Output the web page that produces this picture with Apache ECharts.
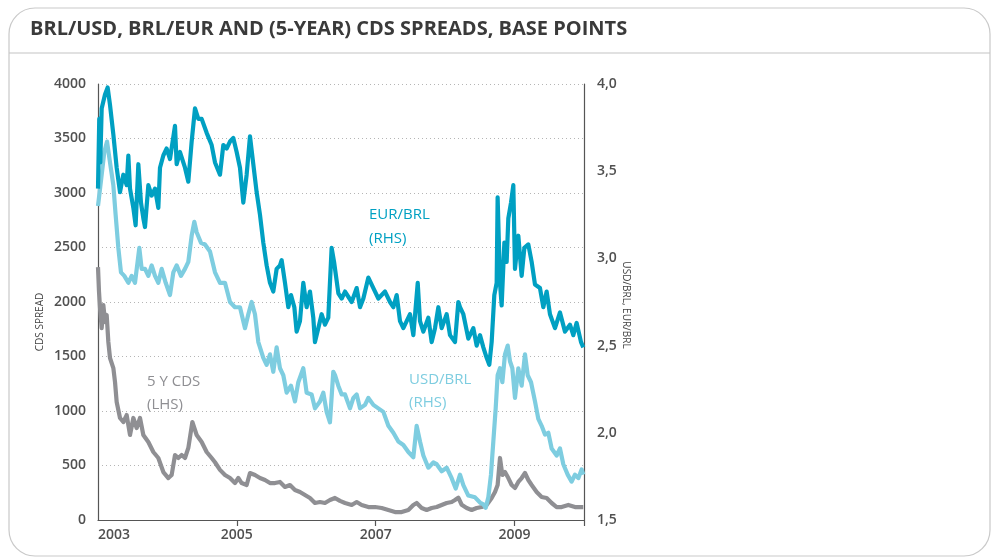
<!DOCTYPE html>
<html>
<head>
<meta charset="utf-8">
<script src="https://cdn.jsdelivr.net/npm/echarts@6/dist/echarts.min.js"></script>
<style>
html,body{margin:0;padding:0;background:#fff;}
#c{width:992px;height:558px;}
</style>
</head>
<body>
<div id="c"></div>
<script>
// [decimal year, EUR/BRL]
const eurBrl = [
[2003.000,3.40],[2003.018,3.80],[2003.033,3.55],[2003.053,3.86],[2003.101,3.94],[2003.139,3.98],[2003.173,3.88],
[2003.221,3.71],[2003.269,3.52],[2003.317,3.38],[2003.365,3.48],[2003.413,3.42],[2003.437,3.59],[2003.461,3.40],
[2003.509,3.29],[2003.542,3.19],[2003.581,3.54],[2003.619,3.32],[2003.653,3.23],[2003.677,3.18],[2003.725,3.42],
[2003.773,3.36],[2003.821,3.40],[2003.869,3.29],[2003.893,3.52],[2003.941,3.59],[2003.989,3.63],[2004.037,3.57],
[2004.109,3.76],[2004.133,3.54],[2004.181,3.61],[2004.253,3.52],[2004.301,3.44],[2004.349,3.67],[2004.397,3.86],
[2004.445,3.80],[2004.493,3.80],[2004.565,3.72],[2004.637,3.65],[2004.685,3.55],[2004.757,3.48],[2004.805,3.65],
[2004.853,3.63],[2004.901,3.67],[2004.949,3.69],[2004.997,3.61],[2005.045,3.52],[2005.093,3.32],[2005.141,3.48],
[2005.189,3.70],[2005.237,3.54],[2005.285,3.38],[2005.333,3.25],[2005.381,3.09],[2005.429,2.96],[2005.477,2.86],
[2005.525,2.81],[2005.573,2.94],[2005.621,2.96],[2005.645,2.99],[2005.693,2.86],[2005.741,2.72],[2005.780,2.79],
[2005.828,2.72],[2005.861,2.58],[2005.909,2.64],[2005.957,2.86],[2006.005,2.72],[2006.053,2.81],[2006.101,2.66],
[2006.125,2.52],[2006.173,2.60],[2006.221,2.68],[2006.269,2.62],[2006.317,2.66],[2006.365,3.06],[2006.400,2.98],
[2006.462,2.80],[2006.510,2.77],[2006.558,2.81],[2006.654,2.75],[2006.726,2.83],[2006.774,2.72],[2006.822,2.77],
[2006.894,2.89],[2006.966,2.83],[2007.038,2.77],[2007.134,2.81],[2007.206,2.75],[2007.254,2.72],[2007.302,2.79],
[2007.350,2.64],[2007.398,2.60],[2007.446,2.64],[2007.494,2.68],[2007.542,2.56],[2007.605,2.86],[2007.638,2.64],
[2007.686,2.58],[2007.758,2.66],[2007.806,2.52],[2007.854,2.60],[2007.902,2.72],[2007.950,2.60],[2008.022,2.68],
[2008.070,2.56],[2008.142,2.52],[2008.190,2.75],[2008.214,2.72],[2008.262,2.68],[2008.334,2.54],[2008.406,2.60],
[2008.454,2.50],[2008.502,2.56],[2008.550,2.49],[2008.598,2.43],[2008.636,2.39],[2008.670,2.52],[2008.708,2.79],
[2008.742,2.86],[2008.756,3.35],[2008.790,2.86],[2008.814,2.73],[2008.853,3.09],[2008.886,2.98],[2008.910,3.23],
[2008.949,3.32],[2008.982,3.42],[2009.006,2.94],[2009.054,3.13],[2009.102,2.90],[2009.141,3.06],[2009.198,3.08],
[2009.246,2.98],[2009.294,2.85],[2009.366,2.83],[2009.414,2.72],[2009.462,2.81],[2009.510,2.68],[2009.582,2.60],
[2009.654,2.69],[2009.726,2.58],[2009.798,2.62],[2009.846,2.56],[2009.894,2.63],[2009.957,2.52],[2009.990,2.49]
];
// [decimal year, USD/BRL]
const usdBrl = [
[2003.000,3.30],[2003.014,3.29],[2003.053,3.48],[2003.091,3.61],[2003.130,3.67],[2003.173,3.55],[2003.221,3.42],
[2003.254,3.25],[2003.293,3.06],[2003.331,2.92],[2003.379,2.90],[2003.437,2.86],[2003.485,2.90],[2003.533,2.86],
[2003.595,3.06],[2003.629,2.94],[2003.677,2.94],[2003.725,2.90],[2003.773,2.96],[2003.821,2.90],[2003.869,2.86],
[2003.917,2.94],[2003.975,2.86],[2004.037,2.79],[2004.085,2.92],[2004.133,2.96],[2004.195,2.90],[2004.253,2.94],
[2004.301,2.98],[2004.349,3.13],[2004.387,3.21],[2004.421,3.15],[2004.483,3.09],[2004.541,3.08],[2004.613,3.04],
[2004.685,2.92],[2004.757,2.86],[2004.829,2.86],[2004.901,2.75],[2004.973,2.72],[2005.045,2.72],[2005.117,2.60],
[2005.165,2.68],[2005.213,2.75],[2005.261,2.68],[2005.309,2.52],[2005.381,2.43],[2005.429,2.39],[2005.477,2.45],
[2005.525,2.35],[2005.573,2.49],[2005.621,2.37],[2005.669,2.33],[2005.717,2.23],[2005.780,2.27],[2005.837,2.18],
[2005.885,2.29],[2005.957,2.37],[2006.005,2.23],[2006.077,2.22],[2006.125,2.14],[2006.197,2.18],[2006.245,2.23],
[2006.293,2.12],[2006.341,2.06],[2006.389,2.35],[2006.414,2.33],[2006.461,2.27],[2006.510,2.22],[2006.558,2.22],
[2006.630,2.14],[2006.678,2.20],[2006.726,2.22],[2006.774,2.14],[2006.846,2.16],[2006.894,2.20],[2006.966,2.16],
[2007.038,2.14],[2007.110,2.12],[2007.182,2.04],[2007.254,2.00],[2007.326,1.95],[2007.398,1.93],[2007.470,1.89],
[2007.542,1.86],[2007.590,2.04],[2007.638,1.95],[2007.686,1.87],[2007.758,1.80],[2007.830,1.83],[2007.878,1.82],
[2007.950,1.78],[2008.022,1.80],[2008.094,1.74],[2008.152,1.68],[2008.214,1.76],[2008.262,1.70],[2008.334,1.64],
[2008.430,1.63],[2008.502,1.60],[2008.550,1.59],[2008.584,1.57],[2008.622,1.63],[2008.660,1.76],[2008.694,1.95],
[2008.728,2.14],[2008.756,2.33],[2008.790,2.37],[2008.824,2.29],[2008.862,2.45],[2008.901,2.50],[2008.934,2.41],
[2008.968,2.37],[2009.006,2.20],[2009.054,2.37],[2009.102,2.27],[2009.150,2.45],[2009.189,2.33],[2009.237,2.29],
[2009.294,2.18],[2009.342,2.08],[2009.390,2.04],[2009.438,1.99],[2009.486,2.00],[2009.534,1.91],[2009.606,1.87],
[2009.654,1.91],[2009.702,1.82],[2009.765,1.76],[2009.822,1.72],[2009.870,1.76],[2009.918,1.74],[2009.966,1.79],
[2009.990,1.76]
];
// [decimal year, 5Y CDS in base points]
const cds5y = [
[2003.000,2320],[2003.014,2100],[2003.029,1945],[2003.053,1761],[2003.077,1972],[2003.101,1816],[2003.125,1881],
[2003.149,1633],[2003.173,1486],[2003.221,1394],[2003.245,1266],[2003.269,1083],[2003.317,936],[2003.365,899],
[2003.413,963],[2003.461,780],[2003.509,936],[2003.557,844],[2003.605,936],[2003.653,780],[2003.725,716],
[2003.797,624],[2003.869,569],[2003.941,440],[2004.013,385],[2004.061,413],[2004.109,596],[2004.157,569],
[2004.205,596],[2004.253,569],[2004.301,661],[2004.359,899],[2004.421,780],[2004.493,716],[2004.565,624],
[2004.637,569],[2004.685,530],[2004.757,460],[2004.829,413],[2004.901,385],[2004.973,339],[2005.021,385],
[2005.069,339],[2005.141,321],[2005.189,431],[2005.261,413],[2005.333,385],[2005.405,367],[2005.477,339],
[2005.549,339],[2005.621,349],[2005.693,303],[2005.765,321],[2005.837,275],[2005.909,257],[2005.981,229],
[2006.053,202],[2006.125,156],[2006.197,165],[2006.269,156],[2006.341,183],[2006.413,202],[2006.485,175],
[2006.558,156],[2006.654,138],[2006.726,165],[2006.798,138],[2006.894,119],[2006.990,119],[2007.086,110],
[2007.182,92],[2007.278,73],[2007.374,73],[2007.470,92],[2007.542,138],[2007.590,156],[2007.662,110],
[2007.734,92],[2007.806,110],[2007.878,119],[2007.950,138],[2008.022,156],[2008.094,165],[2008.142,183],
[2008.190,205],[2008.238,140],[2008.310,110],[2008.382,92],[2008.454,110],[2008.526,119],[2008.598,138],
[2008.670,202],[2008.718,257],[2008.756,321],[2008.790,569],[2008.824,413],[2008.862,440],[2008.910,385],
[2008.958,321],[2009.006,294],[2009.054,349],[2009.102,385],[2009.150,431],[2009.198,367],[2009.246,321],
[2009.318,257],[2009.390,211],[2009.462,202],[2009.534,156],[2009.606,119],[2009.678,119],[2009.774,138],
[2009.870,119],[2009.990,119]
];
const yearLabels = [2003, 2005, 2007, 2009];
const yearTicks = [2005, 2007, 2009, 2010];

const FONT = '"Open Sans", "Noto Sans", sans-serif';
const chart = echarts.init(document.getElementById('c'), null, {renderer: 'canvas'});
chart.setOption({
  animation: false,
  backgroundColor: '#ffffff',
  grid: {left: 98, right: 408, top: 84, bottom: 38, containLabel: false},
  xAxis: {
    type: 'value', min: 2003, max: 2010,
    axisLine: {show: true, lineStyle: {color: '#555', width: 1.2}},
    axisTick: {show: true, customValues: yearTicks, length: 6, inside: false, lineStyle: {color: '#555', width: 1.2}},
    axisLabel: {customValues: yearLabels, alignMinLabel: 'left', margin: 8,
      color: '#505050', fontFamily: FONT, fontWeight: 600, fontSize: 14,
      formatter: v => String(v)},
    splitLine: {show: false}
  },
  yAxis: [
    {
      type: 'value', min: 0, max: 4000, interval: 500, position: 'left',
      axisLine: {show: true, lineStyle: {color: '#555', width: 1.2}},
      axisTick: {show: false},
      axisLabel: {margin: 12, color: '#505050', fontFamily: FONT, fontWeight: 600, fontSize: 14,
        formatter: v => String(v)},
      splitLine: {show: true, lineStyle: {color: '#b5b5b5', width: 1, type: [1, 3]}}
    },
    {
      type: 'value', min: 1.5, max: 4, interval: 0.5, position: 'right',
      axisLine: {show: true, lineStyle: {color: '#555', width: 1.2}},
      axisTick: {show: false},
      axisLabel: {margin: 13, color: '#505050', fontFamily: FONT, fontWeight: 600, fontSize: 14,
        formatter: v => v.toFixed(1).replace('.', ',')},
      splitLine: {show: false}
    }
  ],
  series: [
    {name: '5 Y CDS (LHS)', type: 'line', yAxisIndex: 0, data: cds5y, showSymbol: false, smooth: false,
      lineStyle: {color: '#8f8f93', width: 4.2, join: 'round'}, z: 2},
    {name: 'USD/BRL (RHS)', type: 'line', yAxisIndex: 1, data: usdBrl, showSymbol: false, smooth: false,
      lineStyle: {color: '#7ecde0', width: 4.2, join: 'round'}, z: 3},
    {name: 'EUR/BRL (RHS)', type: 'line', yAxisIndex: 1, data: eurBrl, showSymbol: false, smooth: false,
      lineStyle: {color: '#00a0c2', width: 4.2, join: 'round'}, z: 4}
  ],
  graphic: [
    {type: 'rect', z: -10, silent: true, shape: {x: 9, y: 8, width: 981, height: 548, r: 26},
      style: {fill: '#ffffff', stroke: '#c9c9c9', lineWidth: 1.2}},
    {type: 'line', z: -9, silent: true, shape: {x1: 9, y1: 53, x2: 990, y2: 53},
      style: {stroke: '#c4c4c4', lineWidth: 1.2}},
    {type: 'text', left: 30, top: 19, silent: true,
      style: {text: 'BRL/USD, BRL/EUR AND (5-YEAR) CDS SPREADS, BASE POINTS', fill: '#3a3a3a',
        font: '700 20px "Open Sans", sans-serif'}},
    {type: 'text', x: 40, y: 322, rotation: Math.PI / 2, silent: true,
      style: {text: 'CDS SPREAD', fill: '#444', font: '400 10px "Open Sans", sans-serif', align: 'center', verticalAlign: 'middle'}},
    {type: 'text', x: 626, y: 305, rotation: -Math.PI / 2, silent: true,
      style: {text: 'USD/BRL, EUR/BRL', fill: '#444', font: '400 10px "Open Sans", sans-serif', align: 'center', verticalAlign: 'middle'}},
    {type: 'text', left: 369, top: 203, silent: true,
      style: {text: 'EUR/BRL\n(RHS)', fill: '#00a0c2', font: '400 15px "Open Sans", sans-serif', lineHeight: 24}},
    {type: 'text', left: 409, top: 368, silent: true,
      style: {text: 'USD/BRL\n(RHS)', fill: '#7ecde0', font: '400 15px "Open Sans", sans-serif', lineHeight: 23}},
    {type: 'text', left: 147, top: 370, silent: true,
      style: {text: '5 Y CDS\n(LHS)', fill: '#8f8f93', font: '400 15px "Open Sans", sans-serif', lineHeight: 23}}
  ]
});
</script>
</body>
</html>
